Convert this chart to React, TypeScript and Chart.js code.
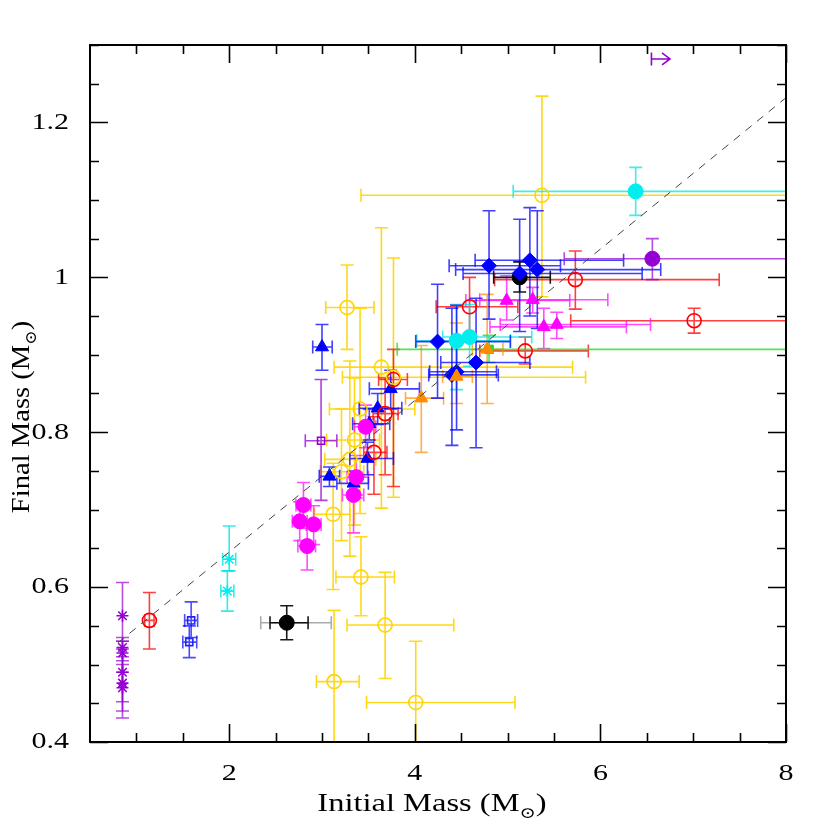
import React, { useEffect, useRef } from "react";
import { Chart, registerables } from "chart.js";
Chart.register(...registerables);

// Each row: [initialMass, finalMass, xMin, xMax, yMin, yMax]  (null = no error bar)
const yellowCircles = [
  [3.27, 0.961, 3.04, 3.56, 0.907, 1.016],
  [3.64, 0.884, 3.13, 5.7, 0.702, 1.064],
  [3.77, 0.871, 3.22, 5.84, 0.716, 1.025],
  [3.41, 0.83, 3.08, 4.0, 0.695, 0.96],
  [3.35, 0.79, 3.05, 3.62, 0.68, 0.87],
  [3.3, 0.765, 3.03, 3.58, 0.64, 0.892],
  [3.21, 0.749, 2.98, 3.45, 0.66, 0.83],
  [3.12, 0.694, 2.92, 3.3, 0.597, 0.76],
  [3.42, 0.613, 3.15, 3.78, 0.563, 0.665],
  [3.68, 0.551, 3.27, 4.42, 0.482, 0.619],
  [3.13, 0.478, 2.94, 3.4, 0.3, 0.57],
  [4.01, 0.451, 3.48, 5.08, 0.3, 0.53],
  [5.37, 1.106, 3.42, 8.5, 0.975, 1.234],
];
const redCircles = [
  [1.14, 0.557, 1.09, 1.19, 0.52, 0.593],
  [3.56, 0.774, 3.45, 3.7, 0.72, 0.82],
  [3.68, 0.824, 3.55, 3.82, 0.745, 0.87],
  [3.77, 0.868, 3.61, 3.92, 0.73, 0.907],
  [4.59, 0.962, 4.23, 5.11, 0.923, 1.0],
  [5.73, 0.997, 4.86, 7.28, 0.959, 1.034],
  [5.19, 0.905, 4.7, 5.87, 0.888, 0.923],
  [7.01, 0.944, 5.68, 8.5, 0.928, 0.96],
];
const blueTriangles = [
  [3.0, 0.91, 2.9, 3.11, 0.88, 0.939],
  [3.74, 0.856, 3.51, 4.05, 0.83, 0.88],
  [3.6, 0.831, 3.4, 3.86, 0.81, 0.85],
  [3.51, 0.811, 3.33, 3.73, 0.79, 0.83],
  [3.49, 0.766, 3.3, 3.77, 0.745, 0.787],
  [3.08, 0.743, 2.97, 3.19, 0.73, 0.755],
  [3.34, 0.734, 3.16, 3.5, 0.715, 0.75],
];
const magentaCircles = [
  [2.8, 0.706, 2.72, 2.88, 0.676, 0.735],
  [2.76, 0.685, 2.68, 2.84, 0.66, 0.71],
  [2.91, 0.681, 2.83, 2.99, 0.655, 0.705],
  [2.84, 0.653, 2.74, 2.93, 0.622, 0.68],
  [3.47, 0.807, 3.35, 3.58, 0.78, 0.835],
  [3.37, 0.742, 3.27, 3.5, 0.715, 0.77],
  [3.34, 0.719, 3.22, 3.45, 0.67, 0.745],
];
const magentaTriangles = [
  [4.99, 0.97, 4.55, 5.67, 0.945, 1.002],
  [5.27, 0.971, 4.7, 6.08, 0.954, 0.987],
  [5.39, 0.936, 4.81, 6.28, 0.908, 0.96],
  [5.53, 0.939, 4.92, 6.54, 0.921, 0.955],
];
const orangeTriangles = [
  [4.45, 0.872, 4.3, 4.62, 0.837, 0.941],
  [4.07, 0.844, 3.9, 4.31, 0.774, 0.912],
  [4.78, 0.907, 4.62, 4.95, 0.837, 0.978],
];
const greenSquares = [[4.8, 0.907, 3.81, 8.5, 0.89, 0.925]];
const blueDiamonds = [
  [4.245, 0.917, 4.01, 5.03, 0.844, 0.991],
  [4.66, 0.89, 4.28, 5.24, 0.78, 0.973],
  [4.45, 0.878, 4.16, 4.88, 0.803, 0.964],
  [4.4, 0.874, 4.15, 4.9, 0.783, 0.96],
  [4.8, 1.015, 4.37, 5.57, 0.946, 1.086],
  [5.13, 1.005, 4.52, 6.45, 0.93, 1.075],
  [5.24, 1.022, 4.65, 6.25, 0.95, 1.09],
  [5.32, 1.01, 4.44, 6.65, 0.934, 1.086],
];
const cyanCircles = [
  [4.45, 0.918, 4.02, 5.03, 0.855, 0.965],
  [4.59, 0.923, 4.3, 5.26, 0.885, 0.965],
  [6.38, 1.111, 5.06, 8.5, 1.08, 1.142],
];
const cyanStars = [
  [2.0, 0.636, 1.93, 2.07, 0.621, 0.679],
  [1.98, 0.595, 1.91, 2.05, 0.569, 0.621],
];
const blueSquares = [
  [1.59, 0.557, 1.52, 1.66, 0.535, 0.581],
  [1.57, 0.529, 1.5, 1.65, 0.509, 0.55],
];
const purpleStars = [
  [0.85, 0.563, null, null, 0.53, 0.606],
  [0.85, 0.522, null, null, 0.505, 0.535],
  [0.85, 0.515, null, null, 0.49, 0.53],
  [0.85, 0.49, null, null, 0.452, 0.52],
  [0.85, 0.476, null, null, 0.44, 0.51],
  [0.85, 0.47, null, null, 0.431, 0.5],
];
const purpleSquares = [[2.99, 0.789, 2.82, 3.16, 0.712, 0.868]];
const purpleCircles = [[6.56, 1.024, 5.61, 8.5, 0.997, 1.05]];
const greyExtraErrors = [[2.62, 0.554, 2.34, 3.1, null, null]];
const blackCircles = [
  [2.62, 0.554, 2.44, 2.85, 0.532, 0.576],
  [5.13, 1.0, 4.85, 5.46, 0.981, 1.02],
];
// lower limit arrow: [xStart, y, xEnd]
const purpleLimits = [[6.55, 1.282, 6.75]];
// reference relation (dashed)
const relationLine = [
  [0.8, 0.528],
  [8.0, 1.232],
];

const xMajorTicks = [2, 4, 6, 8];
const xTickLabels = ["2", "4", "6", "8"];
const yMajorTicks = [0.4, 0.6, 0.8, 1.0, 1.2];
const yTickLabels = ["0.4", "0.6", "0.8", "1", "1.2"];
const xTitle = "Initial Mass";
const yTitle = "Final Mass";
const X_MIN = 0.5, X_MAX = 8, Y_MIN = 0.4, Y_MAX = 1.3;

type Group = {
  rows: (number | null)[][];
  color: string;
  err: string;
  style: string | false;
  filled: boolean;
  radius: number;
};

const groups: Group[] = [
  { rows: yellowCircles, color: "#FFD400", err: "rgba(255,212,0,0.9)", style: "circle", filled: false, radius: 7 },
  { rows: purpleStars, color: "#9400D3", err: "rgba(148,0,211,0.7)", style: "star", filled: false, radius: 6 },
  { rows: redCircles, color: "#FF0000", err: "rgba(255,0,0,0.75)", style: "circle", filled: false, radius: 7 },
  { rows: magentaCircles, color: "#FF00FF", err: "rgba(255,0,255,0.7)", style: "circle", filled: true, radius: 7.5 },
  { rows: magentaTriangles, color: "#FF00FF", err: "rgba(255,0,255,0.7)", style: "triangle", filled: true, radius: 7.5 },
  { rows: orangeTriangles, color: "#FF8C00", err: "rgba(255,140,0,0.7)", style: "triangle", filled: true, radius: 7.5 },
  { rows: greenSquares, color: "#22DD22", err: "rgba(40,220,40,0.8)", style: "rect", filled: true, radius: 6 },
  { rows: cyanCircles, color: "#00EEEE", err: "rgba(0,230,230,0.75)", style: "circle", filled: true, radius: 7.5 },
  { rows: cyanStars, color: "#00EEEE", err: "rgba(0,230,230,0.8)", style: "star", filled: false, radius: 6 },
  { rows: blueSquares, color: "#2222FF", err: "rgba(0,0,255,0.7)", style: "rect", filled: false, radius: 5 },
  { rows: blueDiamonds, color: "#0000FF", err: "rgba(0,0,255,0.75)", style: "rectRot", filled: true, radius: 7.5 },
  { rows: blueTriangles, color: "#0000FF", err: "rgba(0,0,255,0.75)", style: "triangle", filled: true, radius: 7.5 },
  { rows: purpleSquares, color: "#9400D3", err: "rgba(148,0,211,0.75)", style: "rect", filled: false, radius: 5 },
  { rows: purpleCircles, color: "#9400D3", err: "rgba(148,0,211,0.7)", style: "circle", filled: true, radius: 7.5 },
  { rows: greyExtraErrors, color: "#999999", err: "rgba(150,150,150,0.8)", style: false, filled: false, radius: 0 },
  { rows: blackCircles, color: "#000000", err: "rgba(0,0,0,0.9)", style: "circle", filled: true, radius: 7.5 },
];

const CAP = 6.5;
const FONT = "'Liberation Serif', 'DejaVu Serif', serif";
const STRETCH = 1.25;

const errorBarsPlugin = {
  id: "errorBars",
  beforeDatasetsDraw(chart: any) {
    const { ctx, chartArea: a, scales } = chart;
    const xs = scales.x, ys = scales.y;
    ctx.save();
    ctx.beginPath();
    ctx.rect(a.left, a.top, a.right - a.left, a.bottom - a.top);
    ctx.clip();
    ctx.lineWidth = 1.6;
    for (const g of groups) {
      ctx.strokeStyle = g.err;
      for (const r of g.rows) {
        const px = xs.getPixelForValue(r[0]);
        const py = ys.getPixelForValue(r[1]);
        ctx.beginPath();
        if (r[2] != null && r[3] != null) {
          const l = xs.getPixelForValue(r[2]);
          const rr = xs.getPixelForValue(r[3]);
          ctx.moveTo(l, py); ctx.lineTo(rr, py);
          ctx.moveTo(l, py - CAP); ctx.lineTo(l, py + CAP);
          ctx.moveTo(rr, py - CAP); ctx.lineTo(rr, py + CAP);
        }
        if (r[4] != null && r[5] != null) {
          const b = ys.getPixelForValue(r[4]);
          const t = ys.getPixelForValue(r[5]);
          ctx.moveTo(px, b); ctx.lineTo(px, t);
          ctx.moveTo(px - CAP, b); ctx.lineTo(px + CAP, b);
          ctx.moveTo(px - CAP, t); ctx.lineTo(px + CAP, t);
        }
        ctx.stroke();
      }
    }
    ctx.strokeStyle = "#9400D3";
    for (const l of purpleLimits) {
      const x0 = xs.getPixelForValue(l[0]);
      const x1 = xs.getPixelForValue(l[2]);
      const py = ys.getPixelForValue(l[1]);
      ctx.beginPath();
      ctx.moveTo(x0, py - CAP); ctx.lineTo(x0, py + CAP);
      ctx.moveTo(x0, py); ctx.lineTo(x1, py);
      ctx.moveTo(x1 - 8, py - 6); ctx.lineTo(x1, py); ctx.lineTo(x1 - 8, py + 6);
      ctx.stroke();
    }
    ctx.restore();
  },
};

function stretchedText(ctx: CanvasRenderingContext2D, text: string, x: number, y: number, align: "left" | "center" | "right") {
  const w = ctx.measureText(text).width * STRETCH;
  let left = x;
  if (align === "center") left = x - w / 2;
  if (align === "right") left = x - w;
  ctx.save();
  ctx.translate(left, y);
  ctx.scale(STRETCH, 1);
  ctx.textAlign = "left";
  ctx.fillText(text, 0, 0);
  ctx.restore();
}

function drawMsun(ctx: CanvasRenderingContext2D, label: string, size: number, stretch: number) {
  const main = label + " (M";
  ctx.font = `${size}px ${FONT}`;
  const w1 = ctx.measureText(main).width;
  ctx.font = `${size * 0.6}px ${FONT}`;
  const w2 = ctx.measureText("\u2299").width;
  ctx.font = `${size}px ${FONT}`;
  const w3 = ctx.measureText(")").width;
  const total = w1 + w2 + w3;
  ctx.save();
  ctx.scale(stretch, 1);
  let x = -total / 2;
  ctx.textAlign = "left";
  ctx.textBaseline = "alphabetic";
  ctx.fillText(main, x, 0);
  x += w1;
  ctx.font = `${size * 0.6}px ${FONT}`;
  ctx.fillText("\u2299", x, size * 0.25);
  x += w2;
  ctx.font = `${size}px ${FONT}`;
  ctx.fillText(")", x, 0);
  ctx.restore();
}

const framePlugin = {
  id: "frame",
  afterDraw(chart: any) {
    const { ctx, chartArea: a, scales } = chart;
    const xs = scales.x, ys = scales.y;
    ctx.save();
    ctx.strokeStyle = "#000";
    ctx.lineWidth = 2;
    ctx.strokeRect(a.left, a.top, a.right - a.left, a.bottom - a.top);
    ctx.lineWidth = 1.6;
    ctx.beginPath();
    for (let v = 1.0; v < X_MAX + 0.001; v += 0.5) {
      const major = Math.abs(v / 2 - Math.round(v / 2)) < 1e-6;
      const len = major ? 18 : 9;
      const px = Math.round(xs.getPixelForValue(v)) + 0.5;
      ctx.moveTo(px, a.bottom); ctx.lineTo(px, a.bottom - len);
      ctx.moveTo(px, a.top); ctx.lineTo(px, a.top + len);
    }
    for (let i = 0; i <= 18; i++) {
      const v = Y_MIN + i * 0.05;
      const major = i % 4 === 0;
      const len = major ? 18 : 9;
      const py = Math.round(ys.getPixelForValue(v)) + 0.5;
      ctx.moveTo(a.left, py); ctx.lineTo(a.left + len, py);
      ctx.moveTo(a.right, py); ctx.lineTo(a.right - len, py);
    }
    ctx.stroke();

    ctx.fillStyle = "#000";
    ctx.font = `24px ${FONT}`;
    ctx.textBaseline = "top";
    xMajorTicks.forEach((v, i) => {
      stretchedText(ctx, xTickLabels[i], xs.getPixelForValue(v), a.bottom + 20, "center");
    });
    ctx.textBaseline = "middle";
    yMajorTicks.forEach((v, i) => {
      stretchedText(ctx, yTickLabels[i], a.left - 21, ys.getPixelForValue(v), "right");
    });

    ctx.save();
    ctx.translate(432, 811);
    drawMsun(ctx, xTitle, 26, 1.25);
    ctx.restore();
    ctx.save();
    ctx.translate(29, 417);
    ctx.rotate(-Math.PI / 2);
    drawMsun(ctx, yTitle, 26, 1.1);
    ctx.restore();
    ctx.restore();
  },
};

export default function App() {
  const ref = useRef<HTMLCanvasElement>(null);
  useEffect(() => {
    document.body.style.margin = "0";
    const canvas = ref.current!;
    const datasets: any[] = groups
      .filter((g) => g.style !== false)
      .map((g) => ({
        type: "scatter",
        data: g.rows.map((r) => ({ x: r[0], y: r[1] })),
        pointStyle: g.style,
        pointRadius: g.radius,
        backgroundColor: g.filled ? g.color : "rgba(0,0,0,0)",
        borderColor: g.color,
        borderWidth: g.filled ? 1 : 1.6,
        showLine: false,
        clip: false,
      }));
    datasets.unshift({
      type: "line",
      data: relationLine.map((p) => ({ x: p[0], y: p[1] })),
      borderColor: "#444",
      borderWidth: 1,
      borderDash: [8, 7],
      pointRadius: 0,
      fill: false,
      tension: 0,
    });
    const chart = new Chart(canvas, {
      type: "scatter",
      data: { datasets },
      options: {
        responsive: false,
        animation: false,
        events: [],
        layout: { padding: { left: 90, top: 45, right: 44, bottom: 88 } },
        scales: {
          x: { type: "linear", min: X_MIN, max: X_MAX, display: false },
          y: { type: "linear", min: Y_MIN, max: Y_MAX, display: false },
        },
        plugins: { legend: { display: false }, tooltip: { enabled: false } },
      },
      plugins: [errorBarsPlugin, framePlugin],
    } as any);
    return () => chart.destroy();
  }, []);
  return (
    <div style={{ width: 830, height: 830, background: "#fff" }}>
      <canvas ref={ref} width={830} height={830} style={{ display: "block" }} />
    </div>
  );
}
